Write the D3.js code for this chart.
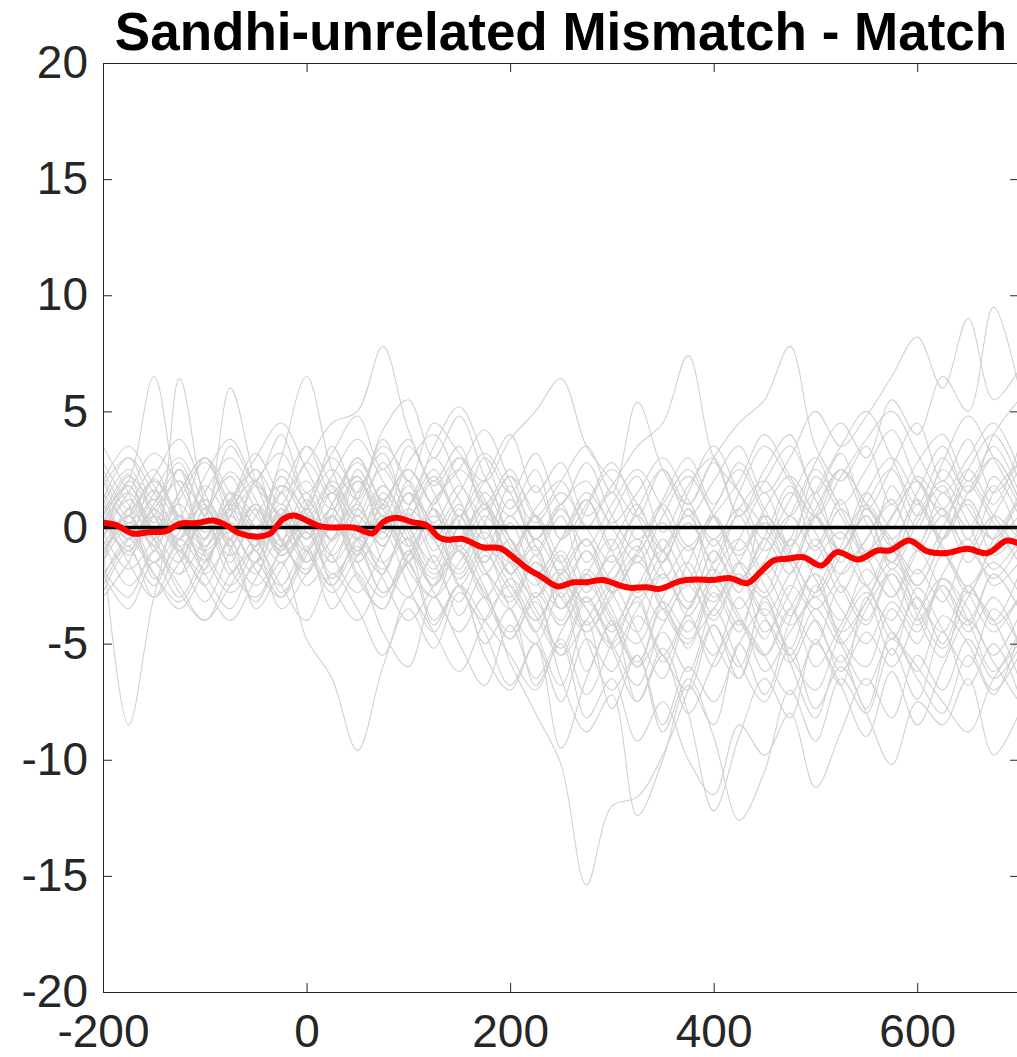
<!DOCTYPE html>
<html>
<head>
<meta charset="utf-8">
<script src="https://cdn.jsdelivr.net/npm/d3@7"></script>
<style>
  body { margin: 0; background: #fff; }
  svg { display: block; }
</style>
</head>
<body>
<script>
// time points (ms) for the single-subject traces
const times = [-200, -175, -150, -125, -100, -75, -50, -25, 0, 25, 50, 75, 100, 125, 150, 175, 200,
  225, 250, 275, 300, 325, 350, 375, 400, 425, 450, 475, 500, 525, 550, 575, 600, 625, 650, 675, 700];

// single-subject difference waves (uV)
const subj01 = [1.2, -0.5, 2.1, 0.3, -1.4, 0.8, 2.0, -0.6, -1.8, 0.5, -2.2, -3.5, -1.0, -2.8, -4.5, -3.0, -5.8, -8.0, -10.2, -15.4, -12.0, -11.6, -9.8, -7.0, -4.2, -6.5, -3.0, -5.2, -2.5, -4.8, -6.0, -3.5, -5.0, -2.2, -4.0, -6.2, -4.5];
const subj02 = [0.5, 2.3, -1.0, 1.5, 3.0, 0.2, -1.5, 1.8, 0.6, -2.0, -0.5, 1.2, -1.8, -3.0, -0.8, -2.6, -4.8, -3.2, -6.5, -8.8, -7.2, -12.4, -10.0, -6.8, -8.5, -5.0, -7.2, -4.0, -2.0, -4.5, -3.2, -1.0, -3.8, -5.6, -2.5, -4.2, -3.0];
const subj03 = [-1.5, 0.8, -2.2, -0.5, 1.0, -1.8, -3.0, -0.8, 1.5, -0.6, 2.0, 0.4, -1.2, 0.8, -2.5, -1.0, -3.5, -5.0, -2.8, -6.2, -4.0, -7.5, -5.2, -8.0, -12.2, -9.0, -6.5, -8.2, -4.8, -6.8, -3.0, -5.5, -2.6, -4.4, -6.0, -3.5, -5.0];
const subj04 = [2.0, 0.2, 1.6, -0.8, 0.5, 2.4, 0.8, -1.2, 0.2, 1.8, -0.5, -2.0, 0.6, -1.5, -3.2, -1.2, -2.8, -4.5, -6.8, -4.0, -7.8, -5.5, -8.8, -6.5, -9.0, -12.6, -10.5, -7.0, -9.2, -6.5, -8.0, -5.2, -7.4, -4.5, -6.8, -5.0, -7.2];
const subj05 = [-0.8, -8.5, -3.0, 0.5, -1.8, 1.2, -0.5, 2.5, 1.0, -1.2, 0.8, 2.5, 0.2, -1.8, 0.5, -2.0, -0.5, -3.0, -1.2, -4.2, -2.5, -0.8, -3.5, -1.5, 0.5, -2.2, -0.4, 1.8, -0.8, 1.2, -1.5, 0.4, 2.0, -0.5, 1.5, 3.0, 1.2];
const subj06 = [0.2, 1.5, -0.5, -2.0, 0.8, -1.0, -3.2, -1.5, -4.8, -6.5, -9.6, -6.0, -3.5, -5.2, -2.8, -4.5, -6.8, -5.0, -7.5, -4.8, -6.2, -3.8, -5.5, -7.0, -4.2, -6.0, -3.2, -5.8, -8.2, -5.5, -7.8, -4.5, -6.2, -3.8, -5.0, -7.0, -5.5];
const subj07 = [-0.5, 1.8, 0.2, 2.5, -0.8, 1.0, 3.2, 1.5, 2.8, 4.5, 5.0, 7.8, 4.2, 2.0, 3.5, 0.8, 2.2, -0.5, 1.0, -1.5, 0.5, 2.2, -0.2, 1.8, 3.0, 0.5, 2.5, 4.0, 1.5, 3.2, 0.8, 2.6, 4.5, 2.0, 3.8, 1.5, 2.8];
const subj08 = [0.8, 2.0, 6.5, 1.0, -1.5, 0.5, -0.8, 1.5, -0.5, 2.0, 0.2, -1.8, 0.8, 3.0, 1.2, -0.5, 1.8, -1.2, 0.5, -2.5, -0.8, 1.0, -1.5, 0.8, -2.2, -0.5, 1.5, -0.8, 2.2, 0.5, -1.2, 1.8, 0.0, 2.5, 0.8, -0.5, 1.2];
const subj09 = [-1.2, 0.5, -0.8, 6.4, 1.0, -1.5, 0.8, -1.0, 1.2, -0.5, 2.5, 0.8, 3.5, 1.5, -0.5, 1.0, -2.0, -0.8, -3.5, -2.0, -4.2, -2.5, -1.0, -3.2, -1.5, 0.5, -2.0, -0.5, 1.5, -1.0, 0.5, -1.8, 0.2, 1.8, -0.5, 2.2, 0.5];
const subj10 = [1.5, -0.5, 1.0, 2.8, 0.5, 6.0, 2.0, -0.5, -2.0, 0.5, -1.2, 1.0, -0.8, -2.5, 0.2, 2.0, -0.5, -2.2, -4.0, -1.8, -3.5, -5.8, -3.0, -1.5, -3.8, -2.0, -4.5, -2.8, -0.5, -2.5, -4.2, -2.0, -3.5, -1.2, -2.8, -4.5, -3.0];
const subj11 = [-2.0, -0.5, 1.2, -1.0, 0.5, 2.2, 0.0, 3.0, 6.5, 2.5, 0.5, 2.8, 1.0, 3.5, 5.2, 3.0, 0.8, 2.5, -0.5, 1.2, -1.0, -2.8, -0.5, -2.2, 0.5, -1.5, -3.0, -1.0, 0.8, 2.5, 0.2, -1.5, 0.5, 2.0, 0.2, -1.8, -0.5];
const subj12 = [0.5, -1.0, 0.8, -0.5, 1.8, 0.2, -1.5, 0.5, 2.0, 0.0, 1.5, 3.2, 1.0, 2.5, 0.5, 2.0, 4.0, 1.5, 2.8, 0.5, 1.8, 3.5, 4.5, 7.4, 3.0, 1.5, -0.5, 1.2, 3.0, 1.0, 2.5, 4.2, 2.0, 0.8, 2.5, 1.0, 3.5];
const subj13 = [-0.8, 0.5, -1.5, 0.2, -0.5, 1.5, 0.5, -1.0, 0.8, 2.5, 1.2, 3.8, 2.0, 4.5, 3.2, 2.0, 3.8, 5.0, 6.4, 3.5, 2.0, 0.5, 2.5, 1.0, 3.0, 4.5, 5.5, 7.8, 3.5, 2.0, 3.5, 1.0, 2.8, 4.0, 2.0, 3.5, 1.5];
const subj14 = [1.0, -0.5, 0.8, 2.0, 0.5, -1.2, 0.5, 1.8, 0.2, -1.5, 0.5, -0.8, 1.5, -0.5, 1.0, -1.5, 0.2, -2.0, -0.5, 1.2, -1.0, 0.8, 2.5, 0.5, 2.0, 3.5, 1.5, 3.0, 5.0, 3.5, 4.8, 6.5, 8.2, 6.0, 9.0, 5.5, 6.8];
const subj15 = [-0.5, 1.2, -0.2, -1.5, 0.8, -0.8, 1.0, -0.5, -2.0, 0.5, -1.0, 1.5, -0.5, -2.2, 0.0, -1.8, -3.0, -1.2, -3.5, -2.0, -0.5, -2.8, -1.0, 0.5, -1.5, 0.8, 2.0, 0.5, 2.8, 4.5, 3.0, 5.5, 4.0, 6.5, 5.0, 9.5, 6.0];
const subj16 = [0.2, -1.0, 0.5, -0.8, -2.0, -0.5, 1.0, -1.2, -0.2, -2.2, -0.8, -2.8, -1.5, -0.2, -2.5, -4.0, -2.2, -3.8, -5.5, -3.2, -5.0, -6.8, -4.5, -6.2, -3.5, -5.8, -7.5, -5.2, -7.8, -6.0, -8.0, -10.2, -7.5, -8.5, -6.5, -9.8, -8.0];
const subj17 = [1.0, 2.5, 0.5, -1.0, 1.2, -0.5, -2.0, 0.8, -0.5, 1.5, -1.5, -3.0, -1.0, -4.0, -2.5, -5.0, -3.5, -6.8, -5.0, -8.2, -6.5, -9.2, -7.5, -10.0, -11.5, -8.5, -9.8, -8.0, -11.2, -8.8, -6.5, -8.2, -5.5, -7.0, -4.8, -6.5, -5.2];
const subj18 = [-2.5, -0.8, -3.0, -1.5, 0.2, -2.0, -0.5, -2.8, -1.0, 0.5, -2.0, -3.5, -1.5, -4.2, -2.5, -5.5, -7.0, -5.0, -9.5, -6.5, -4.2, -6.0, -3.5, -5.2, -2.8, -4.5, -1.5, -3.2, -5.0, -2.5, -4.0, -1.8, -3.5, -5.2, -3.0, -1.5, -2.8];
const subj19 = [1.8, 3.0, 1.2, 2.5, 0.8, 3.5, 2.0, 4.0, 1.5, 3.2, 4.8, 2.5, 3.8, 1.8, 3.0, 1.0, 2.5, 0.5, 2.0, 3.5, 1.5, 5.4, 2.5, 1.0, 2.8, 0.5, 2.0, 3.5, 1.2, -0.5, 1.5, 0.0, 2.2, 0.8, -0.8, 1.5, 2.8];
const subj20 = [-1.0, 0.8, 2.5, 0.5, 3.0, 1.0, -0.5, 2.2, 0.8, 3.5, 1.5, 4.2, 5.5, 3.0, 4.8, 2.2, 0.5, 1.8, -0.5, 1.0, 2.8, 0.5, -1.5, 0.8, -0.8, 1.5, 3.5, 2.0, 0.5, 2.2, 3.8, 5.0, 3.2, 1.5, 3.0, 4.5, 2.5];
const subj21 = [0.5, -1.5, -3.0, -1.0, -2.5, -0.5, -3.5, -1.8, -0.2, -2.5, -4.0, -2.0, -0.5, -2.5, -1.0, -3.0, -4.8, -3.0, -5.5, -4.0, -2.5, -4.5, -6.5, -4.0, -5.5, -3.0, -4.8, -2.5, -4.0, -5.8, -3.5, -2.0, -4.0, -2.5, -4.5, -3.0, -5.0];
const subj22 = [-1.8, -3.0, -1.0, -2.8, -4.0, -2.5, -1.0, -3.5, -2.0, -0.5, 1.0, -1.5, -3.0, -1.2, -3.8, -2.0, -3.2, -1.5, -3.0, -4.5, -2.8, -1.2, -3.5, -5.0, -2.5, -4.2, -2.0, -3.8, -1.5, -0.2, -2.5, -4.0, -1.8, -3.2, -1.0, -2.2, -0.8];
const subj23 = [2.5, 0.8, 2.2, 3.8, 1.5, -0.5, 2.0, 0.5, 2.8, 1.0, -0.5, 1.8, 0.0, -1.5, 0.8, -1.0, 1.2, -0.8, -2.5, -1.0, -2.8, -1.2, 0.2, -1.8, -3.2, -1.5, -2.8, -0.5, -2.2, -4.0, -1.8, -3.0, -1.0, -2.8, -4.2, -2.0, -3.5];
const subj24 = [-0.2, -1.8, -0.5, 1.0, -1.2, -2.8, -1.5, 0.2, -1.0, -2.8, -1.2, 0.5, -1.5, 0.8, -0.8, 1.5, -0.5, -2.0, -3.5, -2.0, -3.8, -5.0, -3.2, -4.5, -2.0, -0.5, -2.5, -4.2, -2.8, -1.0, -2.5, -0.8, -2.5, -0.5, 1.0, -1.2, -0.2];
const subj25 = [3.5, 1.5, -0.5, 1.2, 2.8, 0.8, -0.8, 0.5, -1.5, 0.2, 2.0, 0.5, 2.8, 4.0, 2.0, 0.2, -1.5, 0.5, -2.0, -0.5, -2.8, -1.0, 1.0, -0.8, 0.8, 2.5, 0.5, -1.5, 0.5, 2.5, 1.0, -0.5, -2.0, 0.0, 1.8, 0.2, -1.5];
const subj26 = [-3.0, -1.5, 0.5, -1.0, -2.5, -4.0, -2.2, -0.5, -2.5, -1.0, 0.8, -0.8, 1.5, 0.0, -1.8, 0.5, -1.5, -3.0, -1.8, -3.5, -5.0, -3.0, -5.5, -3.8, -6.0, -4.0, -5.5, -3.5, -6.0, -4.2, -2.5, -4.8, -3.0, -5.0, -2.8, -4.0, -6.5];
const subj27 = [1.2, 3.0, 1.5, 0.0, 2.2, 3.8, 1.8, 0.5, -1.0, 1.0, 2.8, 1.0, -0.5, 1.2, 2.5, 4.2, 2.0, 0.2, 1.5, 0.0, -1.5, 0.5, -1.0, 1.5, 3.5, 1.5, 0.0, -1.5, 0.5, -1.0, 1.0, 2.5, 0.5, 2.8, 4.8, 3.0, 1.0];
const subj28 = [-1.5, 0.0, -2.0, -3.5, -1.8, 0.2, -1.0, -2.5, -0.8, -3.5, -2.0, -4.5, -6.0, -3.0, -5.0, -6.8, -4.2, -6.5, -4.8, -7.2, -5.0, -3.2, -5.8, -3.5, -1.8, -3.8, -5.5, -7.2, -5.0, -6.8, -9.0, -6.2, -8.5, -6.0, -4.0, -5.8, -7.5];
const subj29 = [0.0, 1.5, 3.2, 1.8, -0.2, 1.2, 3.0, 4.5, 2.5, 0.8, 2.2, 0.0, 1.8, -0.5, -2.0, 0.2, 2.2, 0.5, -1.5, 0.8, 2.5, 1.0, -1.0, -2.5, -0.5, -2.2, -0.8, 1.5, -0.2, -2.0, -0.5, 1.2, -1.0, 0.5, -1.5, 0.5, 2.5];
const subj30 = [-2.8, -1.0, -2.5, -0.5, -2.0, -3.5, -1.5, -3.0, -1.2, 0.5, -1.5, -0.2, -2.5, -4.5, -2.5, -4.0, -5.5, -7.0, -4.5, -3.0, -5.2, -7.5, -5.5, -8.0, -5.8, -4.0, -6.2, -4.5, -3.0, -5.0, -6.8, -4.8, -6.5, -8.0, -5.5, -7.2, -4.5];
const subj31 = [1.0, -0.8, 1.5, 3.0, 1.0, -0.5, 1.8, 0.2, -1.5, 0.5, 3.0, 1.2, 2.5, 0.8, -1.0, 0.8, -0.8, -2.5, -1.0, -2.8, -1.2, -3.0, -1.5, 0.2, -1.8, -3.5, -1.5, 0.5, -1.0, 0.8, -1.2, -3.0, -1.0, 0.8, -1.0, 0.5, -0.5];
const subj32 = [-0.5, 2.0, 0.5, -1.2, -3.2, -1.0, 1.0, -0.8, 1.0, 3.0, 1.2, -0.5, 2.0, 0.2, 1.8, -0.5, -2.0, -4.0, -2.0, -0.5, -2.2, 0.0, -1.8, -3.5, -1.0, -2.8, 0.5, -1.0, -3.0, -1.2, 0.5, -1.5, 1.0, -0.8, -2.8, -0.5, 1.2];
const subj33 = [2.2, 0.5, 2.0, 0.2, -1.0, 0.5, 2.5, 1.0, 3.5, 1.8, 0.0, -1.5, 0.2, 2.2, 0.5, 3.0, 1.5, 3.2, 1.0, 2.8, 0.5, -1.0, 1.2, 3.0, 1.0, 2.8, 0.8, -0.8, 1.5, 3.5, 5.0, 3.0, 1.0, 3.0, 1.5, 4.0, 5.5];
const subj34 = [-2.0, -3.5, -1.5, -3.0, -1.0, 0.8, -0.5, -2.5, -4.0, -2.0, -3.5, -5.5, -3.0, -4.5, -6.2, -4.0, -2.5, -4.5, -2.0, -4.8, -7.0, -5.5, -8.5, -6.0, -7.5, -5.0, -3.5, -5.5, -7.0, -4.5, -2.8, -4.5, -6.0, -7.5, -8.8, -6.5, -5.0];
const subj35 = [0.8, -1.2, 0.5, 2.0, -0.5, 1.5, -1.0, 0.8, -1.5, 1.0, 2.2, -0.2, 1.5, -1.0, 0.5, -1.8, -3.5, -1.5, -3.0, -1.0, -2.8, -4.5, -2.0, -3.5, -1.0, -2.5, -0.5, -2.0, 0.5, -1.5, 0.8, -0.8, 1.2, -1.0, -2.5, -0.8, 0.5];
const subj36 = [-1.0, 0.5, 2.0, 0.5, -0.8, 1.0, 2.5, -0.5, 0.8, -1.5, 0.0, 1.8, -0.2, -2.0, -0.5, 1.0, -1.2, 0.5, -1.5, -3.2, -1.8, -0.5, -2.2, -0.8, -3.0, -1.5, 0.2, -1.5, -3.5, -2.0, -0.5, 1.0, -0.8, 1.5, 0.0, 1.8, -0.5];
const subj37 = [2.8, 1.0, -0.5, -2.0, -0.5, 1.0, 0.0, 1.5, 3.5, 1.5, 3.0, 0.8, -0.8, 1.0, 2.5, 1.0, -1.0, 0.8, 2.0, 0.0, 1.5, -0.5, 1.0, 2.5, 0.5, -1.2, 0.8, 2.2, 0.5, -1.0, 1.5, 3.0, 1.2, -0.5, 2.0, 0.5, -1.0];
const subj38 = [-2.2, -0.5, -2.0, -3.2, -1.5, -0.2, -1.8, -3.0, -1.0, -2.5, -0.5, -2.2, -4.0, -2.5, -1.0, -3.0, -1.5, -3.5, -5.2, -3.0, -4.5, -2.5, -4.0, -2.2, -4.8, -6.5, -4.0, -5.5, -3.5, -5.0, -3.2, -1.5, -3.0, -4.5, -2.5, -4.0, -2.0];
const subj39 = [0.0, 2.2, 0.8, -0.5, 1.5, 3.0, 1.2, -0.8, 0.5, 2.2, 3.8, 2.0, 0.5, 2.0, 0.2, -1.5, 0.5, -1.0, 0.8, -0.8, 1.0, 2.5, 0.8, -1.0, 0.5, 2.0, 4.0, 2.2, 0.5, 2.5, 1.0, -0.5, 1.5, 3.5, 1.5, 3.0, 1.2];
const subj40 = [1.5, 0.0, -1.5, -0.2, 1.2, -0.8, -2.5, -1.0, 0.5, -1.2, -2.8, -1.0, 0.8, -0.5, -2.2, -0.8, -2.5, -4.0, -2.5, -4.5, -3.0, -1.5, -3.2, -4.8, -3.5, -2.0, -3.8, -2.0, -0.8, -2.8, -1.0, -2.5, -4.2, -2.0, -0.5, -2.5, -1.5];
const subj41 = [-0.5, -2.5, -1.0, 0.5, -1.0, -2.5, -0.8, 1.0, -0.5, 0.8, -1.0, 0.5, -1.5, -3.0, -1.5, -0.2, -2.0, -0.5, -2.2, -3.5, -5.2, -3.5, -2.0, -3.8, -2.2, -4.0, -5.5, -3.5, -2.0, -3.5, -5.0, -3.2, -4.5, -2.5, -4.0, -2.0, -3.5];
const subj42 = [2.0, 3.5, 1.8, 0.2, -1.2, 0.5, 2.0, 3.2, 1.0, -0.5, 1.2, 3.5, 2.0, 0.0, 1.5, 3.2, 1.5, -0.5, 1.0, 2.0, 0.2, 1.5, 3.0, 1.2, -0.5, 0.8, -1.0, 0.5, 2.5, 0.8, -1.0, 0.5, 2.0, 0.5, 2.5, 4.0, 2.0];
const subj43 = [-1.2, 0.2, -0.8, -2.5, -4.0, -2.0, -0.8, 0.5, -1.0, -2.5, -1.0, -2.8, -1.2, 0.5, -1.0, -2.8, -4.5, -2.8, -4.2, -2.5, -4.0, -6.0, -4.2, -2.5, -4.0, -2.2, -3.8, -5.8, -4.0, -6.2, -4.5, -6.0, -3.8, -2.2, -3.5, -5.5, -3.8];
const subj44 = [0.5, 1.8, 0.0, 1.5, 3.0, 1.5, 0.0, -1.5, 0.0, 1.5, -0.5, 1.0, 2.5, 1.0, 3.0, 1.2, -0.5, -2.0, -0.5, 1.5, 0.0, -1.5, 0.5, 2.2, 0.5, -1.0, 0.5, -1.2, -2.8, -0.8, 1.0, -0.8, -2.5, -0.5, 1.2, -0.5, 1.5];

const subjects = [subj01, subj02, subj03, subj04, subj05, subj06, subj07, subj08, subj09, subj10,
  subj11, subj12, subj13, subj14, subj15, subj16, subj17, subj18, subj19, subj20,
  subj21, subj22, subj23, subj24, subj25, subj26, subj27, subj28, subj29, subj30,
  subj31, subj32, subj33, subj34, subj35, subj36, subj37, subj38, subj39, subj40,
  subj41, subj42, subj43, subj44];

// grand average (red)
const meanTimes = [-200, -187, -171, -155, -138, -125, -108, -92, -79, -66, -46, -36, -23, -12, 0, 13, 26, 46, 65, 75,
  88, 104, 118, 130, 138, 153, 173, 190, 203, 216, 229, 247, 262, 275, 291, 308, 318, 334, 347, 367,
  384, 399, 416, 433, 446, 459, 472, 488, 506, 521, 542, 561, 573, 592, 610, 629, 649, 669, 688, 700];
const meanValues = [0.2, 0.1, -0.26, -0.2, -0.16, 0.16, 0.19, 0.3, 0.1, -0.25, -0.39, -0.27, 0.37, 0.52, 0.3, 0.06, 0, 0, -0.25, 0.23,
  0.42, 0.23, 0.09, -0.42, -0.53, -0.49, -0.85, -0.89, -1.28, -1.74, -2.07, -2.54, -2.36, -2.36, -2.26, -2.5, -2.6, -2.57, -2.64, -2.31,
  -2.24, -2.26, -2.18, -2.4, -1.92, -1.42, -1.35, -1.28, -1.64, -1.06, -1.38, -0.99, -0.99, -0.56, -1.03, -1.1, -0.92, -1.1, -0.56, -0.7];

const xTicks = [-200, 0, 200, 400, 600];
const yTicks = [-20, -15, -10, -5, 0, 5, 10, 15, 20];
const title = 'Sandhi-unrelated Mismatch - Match';

const W = 1017, H = 1057;
const margin = {top: 63, left: 103, bottom: 65};
const plotRight = 1019;
const axisColor = '#262626';
const font = "'Liberation Sans', Arial, Helvetica, sans-serif";

const svg = d3.select('body').append('svg')
    .attr('width', W)
    .attr('height', H);

const x = d3.scaleLinear().domain([-200, 700]).range([margin.left, plotRight]);
const y = d3.scaleLinear().domain([-20, 20]).range([H - margin.bottom, margin.top]);

svg.append('defs').append('clipPath')
    .attr('id', 'clip')
    .append('rect')
    .attr('x', margin.left)
    .attr('y', margin.top)
    .attr('width', plotRight - margin.left)
    .attr('height', y(-20) - y(20));

const plot = svg.append('g').attr('clip-path', 'url(#clip)');

const subjLine = d3.line()
    .x((d, i) => x(times[i]))
    .y(d => y(d))
    .curve(d3.curveCatmullRom.alpha(0.5));

plot.selectAll('path.subj')
    .data(subjects)
    .enter()
    .append('path')
    .attr('class', 'subj')
    .attr('d', subjLine)
    .attr('fill', 'none')
    .attr('stroke', '#d0d0d0')
    .attr('stroke-width', 1.1);

// zero line
plot.append('line')
    .attr('x1', x(-200)).attr('x2', x(700))
    .attr('y1', y(0)).attr('y2', y(0))
    .attr('stroke', '#000')
    .attr('stroke-width', 3.5);

const meanLine = d3.line()
    .x((d, i) => x(meanTimes[i]))
    .y(d => y(d))
    .curve(d3.curveCatmullRom.alpha(0.5));

plot.append('path')
    .datum(meanValues)
    .attr('d', meanLine)
    .attr('fill', 'none')
    .attr('stroke', '#ff0000')
    .attr('stroke-width', 6)
    .attr('stroke-linejoin', 'round');

// box axes, ticks pointing inward; labels use a plain hyphen like the original
const fmt = d => String(d);
const styleAxis = g => {
    g.select('.domain').attr('stroke', axisColor).attr('stroke-width', 1);
    g.selectAll('.tick line').attr('stroke', axisColor).attr('stroke-width', 1);
    g.selectAll('.tick text')
        .attr('fill', axisColor)
        .style('font-family', font)
        .style('font-size', '46px');
};

svg.append('g')
    .attr('transform', `translate(${margin.left},0)`)
    .call(d3.axisLeft(y).tickValues(yTicks).tickFormat(fmt).tickSizeInner(-9).tickSizeOuter(0).tickPadding(15))
    .call(styleAxis);

svg.append('g')
    .attr('transform', `translate(0,${y(-20)})`)
    .call(d3.axisBottom(x).tickValues(xTicks).tickFormat(fmt).tickSizeInner(-9).tickSizeOuter(0).tickPadding(22))
    .call(styleAxis);

svg.append('g')
    .attr('transform', `translate(0,${y(20)})`)
    .call(d3.axisTop(x).tickValues(xTicks).tickSizeInner(-9).tickSizeOuter(0).tickFormat(''))
    .call(styleAxis);

svg.append('g')
    .attr('transform', `translate(${plotRight},0)`)
    .call(d3.axisRight(y).tickValues(yTicks).tickSizeInner(-9).tickSizeOuter(0).tickFormat(''))
    .call(styleAxis);

svg.append('text')
    .attr('x', (margin.left + plotRight) / 2)
    .attr('y', 50)
    .attr('text-anchor', 'middle')
    .style('font-family', font)
    .style('font-weight', 'bold')
    .style('font-size', '53px')
    .attr('fill', '#000')
    .text(title);
</script>
</body>
</html>
